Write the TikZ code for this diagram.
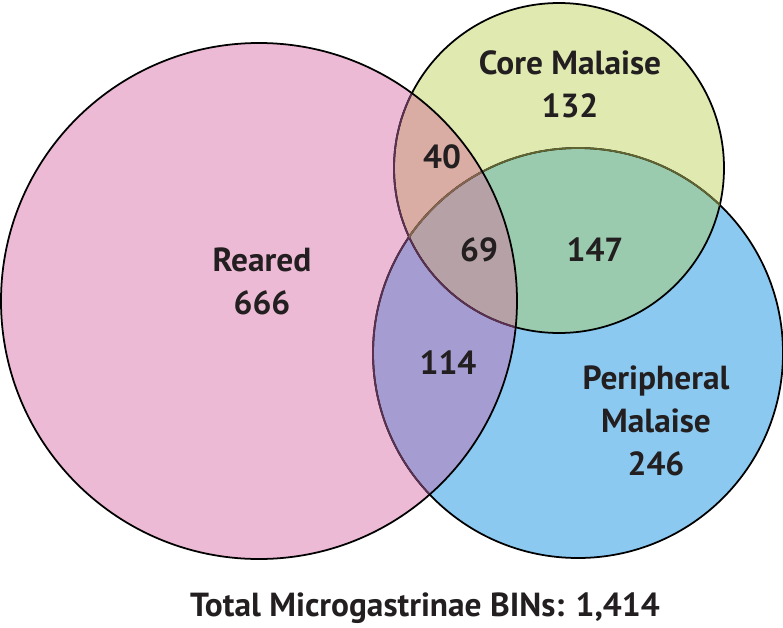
\documentclass[tikz,border=0pt]{standalone}
\usepackage{fontspec}
\setmainfont{PT Sans}
\definecolor{rearedpink}{HTML}{EDBAD6}
\definecolor{coreyellow}{HTML}{DFE9B0}
\definecolor{periblue}{HTML}{8BC9F1}
\definecolor{mixrc}{HTML}{D9ADA4}
\definecolor{mixcp}{HTML}{9ACBAE}
\definecolor{mixrp}{HTML}{A59DD2}
\definecolor{mixall}{HTML}{B5A1A6}
\definecolor{inkgray}{HTML}{231F20}
\definecolor{edgepurple}{HTML}{5B3050}
\definecolor{edgeolive}{HTML}{5F6430}
\definecolor{edgebrown}{HTML}{86634F}
\tikzset{
  setlabel/.style={text=inkgray, align=center, font=\fontsize{19}{24.5}\selectfont\bfseries},
  ring/.style={line width=1pt}
}
\def\rearedC{(259,326) circle (258)}
\def\coreC{(559,459) circle (165)}
\def\periC{(578,274) circle (205)}
\begin{document}
\begin{tikzpicture}[x=0.02cm, y=0.02cm]
\useasboundingbox (0,0) rectangle (783,627);
% base fills
\fill [rearedpink] \rearedC ;
\fill [coreyellow] \coreC ;
\fill [periblue] \periC ;
% overlaps
\begin{scope}
\clip \coreC ;
\fill [mixcp] \periC ;
\end{scope}
\begin{scope}
\clip \rearedC ;
\fill [mixrc] \coreC ;
\fill [mixrp] \periC ;
\clip \coreC ;
\fill [mixall] \periC ;
\end{scope}

% outlines
\draw [ring, black] \coreC ;
\draw [ring, black] \periC ;
\begin{scope}
\clip \rearedC ;
\draw [ring, edgepurple] \coreC ;
\draw [ring, edgepurple] \periC ;
\end{scope}
\begin{scope}
\clip \coreC ;
\draw [ring, edgeolive] \periC ;
\clip \rearedC ;
\draw [ring, edgebrown] \periC ;
\end{scope}
\draw [ring, black] \rearedC ;

% labels
\node [setlabel] (reared) at (262,346) {Reared\\666};
\node [setlabel] (core) at (570,543) {Core Malaise\\132};
\node [setlabel] (peri) at (656,206) {Peripheral\\Malaise\\246};
\node [setlabel] (n40) at (442,470) {40};
\node [setlabel] (n69) at (479,377) {69};
\node [setlabel] (n147) at (595,377) {147};
\node [setlabel] (n114) at (448,264) {114};
\node [setlabel] (total) at (425,19) {Total Microgastrinae BINs: 1,414};
\end{tikzpicture}
\end{document}
